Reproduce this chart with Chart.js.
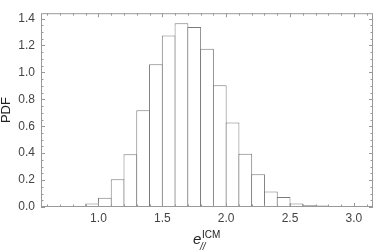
<!DOCTYPE html>
<html>
<head>
<meta charset="utf-8">
<script src="https://cdn.jsdelivr.net/npm/chart.js@4.4.1/dist/chart.umd.min.js"></script>
<style>
  html, body { margin: 0; padding: 0; background: #fff; }
</style>
</head>
<body>
<canvas id="hist" width="374" height="252"></canvas>
<script>
// histogram bins (left edges, width 0.1) and their PDF heights
var binStarts = [0.6, 0.7, 0.8, 0.9, 1.0, 1.1, 1.2, 1.3, 1.4, 1.5, 1.6, 1.7,
                 1.8, 1.9, 2.0, 2.1, 2.2, 2.3, 2.4, 2.5, 2.6, 2.7, 2.8, 2.9];
var pdfValues = [0.001, 0.003, 0.008, 0.026, 0.068, 0.207, 0.392, 0.719, 1.061, 1.275, 1.366, 1.338,
                 1.175, 0.905, 0.628, 0.395, 0.244, 0.116, 0.075, 0.026, 0.013, 0.012, 0.003, 0.002];
var binWidth = 0.1;

var xTickLabels = [1.0, 1.5, 2.0, 2.5, 3.0];
var yTickLabels = [0.0, 0.2, 0.4, 0.6, 0.8, 1.0, 1.2, 1.4];

var points = binStarts.map(function(b, i) {
  return { x: b + binWidth / 2, y: pdfValues[i] };
});

// Mathematica-style frame with inward ticks on all four sides
var framePlugin = {
  id: "frame",
  afterDatasetsDraw: function(chart) {
    var ctx = chart.ctx, a = chart.chartArea;
    var xs = chart.scales.x, ys = chart.scales.y;
    ctx.save();
    ctx.strokeStyle = "#999";
    ctx.lineWidth = 1;
    ctx.strokeRect(a.left + 0.5, a.top + 0.5, a.right - a.left - 1, a.bottom - a.top - 1);

    ctx.beginPath();
    var v, px, len;
    for (v = 0.6; v <= xs.max + 1e-9; v += 0.1) {
      px = Math.round(xs.getPixelForValue(v)) + 0.5;
      len = Math.abs(v * 2 - Math.round(v * 2)) < 1e-6 ? 4 : 2.5;
      ctx.moveTo(px, a.bottom); ctx.lineTo(px, a.bottom - len);
      ctx.moveTo(px, a.top); ctx.lineTo(px, a.top + len);
    }
    for (v = 0; v <= ys.max + 1e-9; v += 0.05) {
      var py = Math.round(ys.getPixelForValue(v)) + 0.5;
      len = Math.abs(v * 5 - Math.round(v * 5)) < 1e-6 ? 4 : 2.5;
      ctx.moveTo(a.left, py); ctx.lineTo(a.left + len, py);
      ctx.moveTo(a.right, py); ctx.lineTo(a.right - len, py);
    }
    ctx.stroke();
    ctx.restore();
  },
  afterDraw: function(chart) {
    // x axis label: e with subscript // and superscript ICM
    var ctx = chart.ctx;
    ctx.save();
    ctx.fillStyle = "#222";
    ctx.textBaseline = "alphabetic";
    ctx.font = "italic 15px 'Liberation Sans', Arial, sans-serif";
    ctx.fillText("e", 193, 244);
    ctx.font = "italic 10px 'Liberation Sans', Arial, sans-serif";
    ctx.fillText("//", 200, 250);
    ctx.font = "10px 'Liberation Sans', Arial, sans-serif";
    ctx.fillText("ICM", 202, 238);
    ctx.restore();
  }
};

var chart = new Chart("hist", {
  type: "bar",
  data: {
    datasets: [{
      data: points,
      backgroundColor: "#fff",
      borderColor: "#7a7a7a",
      borderWidth: 1,
      barPercentage: 1.078,
      categoryPercentage: 1.0
    }]
  },
  options: {
    responsive: false,
    animation: false,
    layout: { padding: { top: 0, right: 1, left: 0, bottom: 0 } },
    plugins: { legend: { display: false }, tooltip: { enabled: false } },
    scales: {
      x: {
        type: "linear",
        min: 0.55,
        max: 3.15,
        offset: false,
        grid: { display: false, drawTicks: false },
        border: { display: false },
        afterBuildTicks: function(s) {
          s.ticks = xTickLabels.map(function(v) { return { value: v }; });
        },
        afterFit: function(s) { s.height = 45; },
        ticks: {
          padding: 4,
          maxRotation: 0,
          autoSkip: false,
          color: "#444",
          font: { family: "'Liberation Sans', Arial, sans-serif", size: 12 },
          callback: function(v) { return Number(v).toFixed(1); }
        }
      },
      y: {
        min: 0,
        max: 1.44,
        grid: { display: false, drawTicks: false },
        border: { display: false },
        afterBuildTicks: function(s) {
          s.ticks = yTickLabels.map(function(v) { return { value: v }; });
        },
        afterFit: function(s) { s.width = 41; },
        title: {
          display: true,
          text: "PDF",
          color: "#222",
          padding: { top: 0, bottom: 0 },
          font: { family: "'Liberation Sans', Arial, sans-serif", size: 13, lineHeight: 1 }
        },
        ticks: {
          padding: 6,
          autoSkip: false,
          color: "#444",
          font: { family: "'Liberation Sans', Arial, sans-serif", size: 12 },
          callback: function(v) { return Number(v).toFixed(1); }
        }
      }
    }
  },
  plugins: [framePlugin]
});
</script>
</body>
</html>
